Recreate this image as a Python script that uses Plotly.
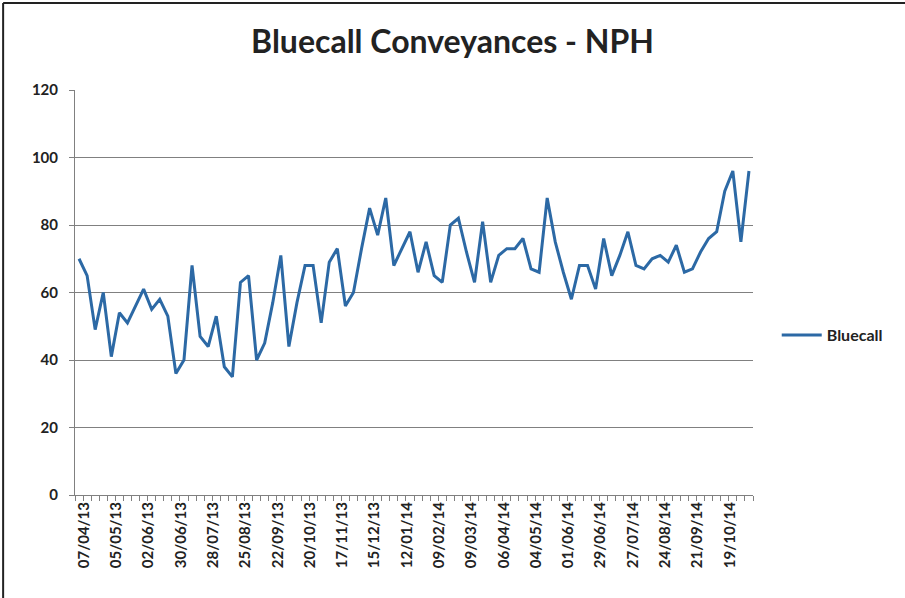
import datetime as dt
import plotly.graph_objects as go

# Weekly categories (week commencing), 07/04/13 .. 09/11/14
start = dt.date(2013, 4, 7)
weeks = [start + dt.timedelta(days=7 * k) for k in range(84)]
week_labels = [d.strftime("%d/%m/%y") for d in weeks]

bluecall = [
    70, 65, 49, 60, 41, 54, 51, 56, 61, 55, 58, 53, 36, 40,
    68, 47, 44, 53, 38, 35, 63, 65, 40, 45, 57, 71, 44, 57,
    68, 68, 51, 69, 73, 56, 60, 73, 85, 77, 88, 68, 73, 78,
    66, 75, 65, 63, 80, 82, 72, 63, 81, 63, 71, 73, 73, 76,
    67, 66, 88, 75, 66, 58, 68, 68, 61, 76, 65, 71, 78, 68,
    67, 70, 71, 69, 74, 66, 67, 72, 76, 78, 90, 96, 75, 96,
]

y_ticks = [0, 20, 40, 60, 80, 100, 120]
label_step = 4

xidx = list(range(len(week_labels)))
tickvals = xidx[::label_step]
ticktext = week_labels[::label_step]

FONT = "Lato"
TXT = "#222222"

fig = go.Figure()
fig.add_trace(go.Scatter(
    x=xidx, y=bluecall, mode="lines", name="Bluecall",
    line=dict(color="#2C69A5", width=3),
    hovertext=week_labels,
))

fig.update_layout(
    width=905, height=598,
    margin=dict(l=75, r=152, t=90, b=103),
    paper_bgcolor="white", plot_bgcolor="white",
    title=dict(text="<b>Bluecall Conveyances - NPH</b>", x=0.5, xanchor="center",
               y=0.93, yanchor="middle",
               font=dict(family=FONT, size=32, color=TXT)),
    showlegend=True,
    legend=dict(x=1.035, y=0.395, xanchor="left", yanchor="middle",
                font=dict(family=FONT, size=16, color=TXT, weight="bold"),
                bgcolor="rgba(0,0,0,0)", itemwidth=40),
    font=dict(family=FONT, color=TXT),
)

fig.update_xaxes(
    range=[-0.5, len(xidx) - 0.5],
    tickmode="array", tickvals=tickvals, ticktext=ticktext,
    tickangle=-90, ticks="", showgrid=False,
    ticklabelshift=5,
    showline=True, linecolor="#808080", linewidth=1,
    tickfont=dict(family=FONT, size=15, color=TXT, weight="bold"),
    minor=dict(tick0=-0.5, dtick=1, ticks="outside", ticklen=5,
               tickcolor="#808080", showgrid=False),
    zeroline=False,
)
fig.update_yaxes(
    range=[0, 120], tickmode="array", tickvals=y_ticks,
    showgrid=True, gridcolor="#808080", gridwidth=1,
    showline=True, linecolor="#808080", linewidth=1,
    ticks="outside", ticklen=5, tickcolor="#808080",
    ticklabelstandoff=8,
    tickfont=dict(family=FONT, size=15, color=TXT, weight="bold"),
    zeroline=False,
)

# chart-area border (left and top edges visible in the reference)
fig.add_shape(type="line", xref="paper", yref="paper",
              x0=-0.106, x1=-0.106, y0=-0.3, y1=1.215,
              line=dict(color="#222", width=2))
fig.add_shape(type="line", xref="paper", yref="paper",
              x0=-0.106, x1=1.23, y0=1.215, y1=1.215,
              line=dict(color="#222", width=2))

fig.write_html("out.html")
